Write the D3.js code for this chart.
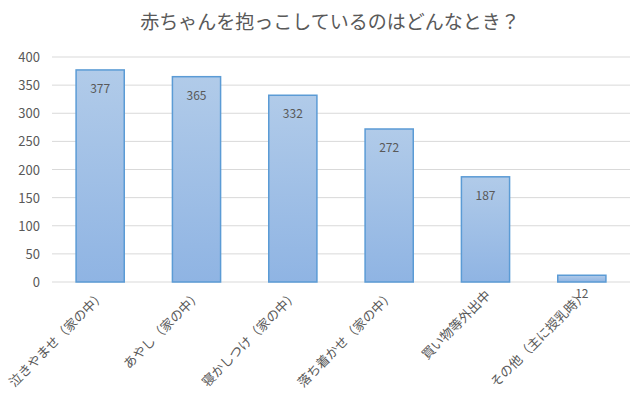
<!DOCTYPE html>
<html><head><meta charset="utf-8">
<script src="https://cdn.jsdelivr.net/npm/d3@7"></script>
<style>body{margin:0;background:#fff}svg{display:block}</style>
</head><body><svg id="c" width="640" height="403"></svg>
<script>
var title = "赤ちゃんを抱っこしているのはどんなとき？";
var categories = ["泣きやませ（家の中）", "あやし（家の中）", "寝かしつけ（家の中）", "落ち着かせ（家の中）", "買い物等外出中", "その他（主に授乳時）"];
var counts = [377, 365, 332, 272, 187, 12];
var yTicks = [0, 50, 100, 150, 200, 250, 300, 350, 400];

var svg = d3.select("#c");
var font = "'Noto Sans CJK JP', 'Noto Sans', sans-serif";
var x = d3.scaleBand().domain(categories).range([52, 630]).paddingInner(0.5).paddingOuter(0.25);
var y = d3.scaleLinear().domain([0, 400]).range([282, 57]);

var grad = svg.append("defs").append("linearGradient").attr("id", "g").attr("x1", 0).attr("x2", 0).attr("y1", 0).attr("y2", 1);
grad.append("stop").attr("offset", 0).attr("stop-color", "#b1cbe9");
grad.append("stop").attr("offset", 1).attr("stop-color", "#8fb4e3");

svg.append("text").attr("x", 330).attr("y", 29).attr("text-anchor", "middle")
  .attr("font-family", font).attr("font-size", 19).attr("fill", "#595959").text(title);

svg.append("g").selectAll("line").data(yTicks).join("line")
  .attr("x1", 52).attr("x2", 630).attr("y1", d => y(d)).attr("y2", d => y(d))
  .attr("stroke", "#d9d9d9").attr("stroke-width", 1);
svg.append("g").selectAll("text").data(yTicks).join("text")
  .attr("x", 40).attr("y", d => y(d) + 5).attr("text-anchor", "end")
  .attr("font-family", font).attr("font-size", 13).attr("fill", "#595959").text(d => d);

svg.append("g").selectAll("rect").data(counts).join("rect")
  .attr("x", (d, i) => x(categories[i])).attr("width", x.bandwidth())
  .attr("y", d => y(d)).attr("height", d => y(0) - y(d))
  .attr("fill", "url(#g)").attr("stroke", "#5b9bd5").attr("stroke-width", 1.5);

svg.append("g").selectAll("text").data(counts).join("text")
  .attr("x", (d, i) => x(categories[i]) + x.bandwidth() / 2).attr("y", d => y(d) + 23)
  .attr("text-anchor", "middle").attr("font-family", font).attr("font-size", 12)
  .attr("fill", "#595959").text(d => d);

svg.append("g").selectAll("text").data(categories).join("text")
  .attr("transform", d => "translate(" + (x(d) + x.bandwidth() / 2 + 6) + ",296) rotate(-45)")
  .attr("text-anchor", "end").attr("font-family", font).attr("font-size", 13)
  .attr("fill", "#595959").text(d => d);
</script></body></html>
